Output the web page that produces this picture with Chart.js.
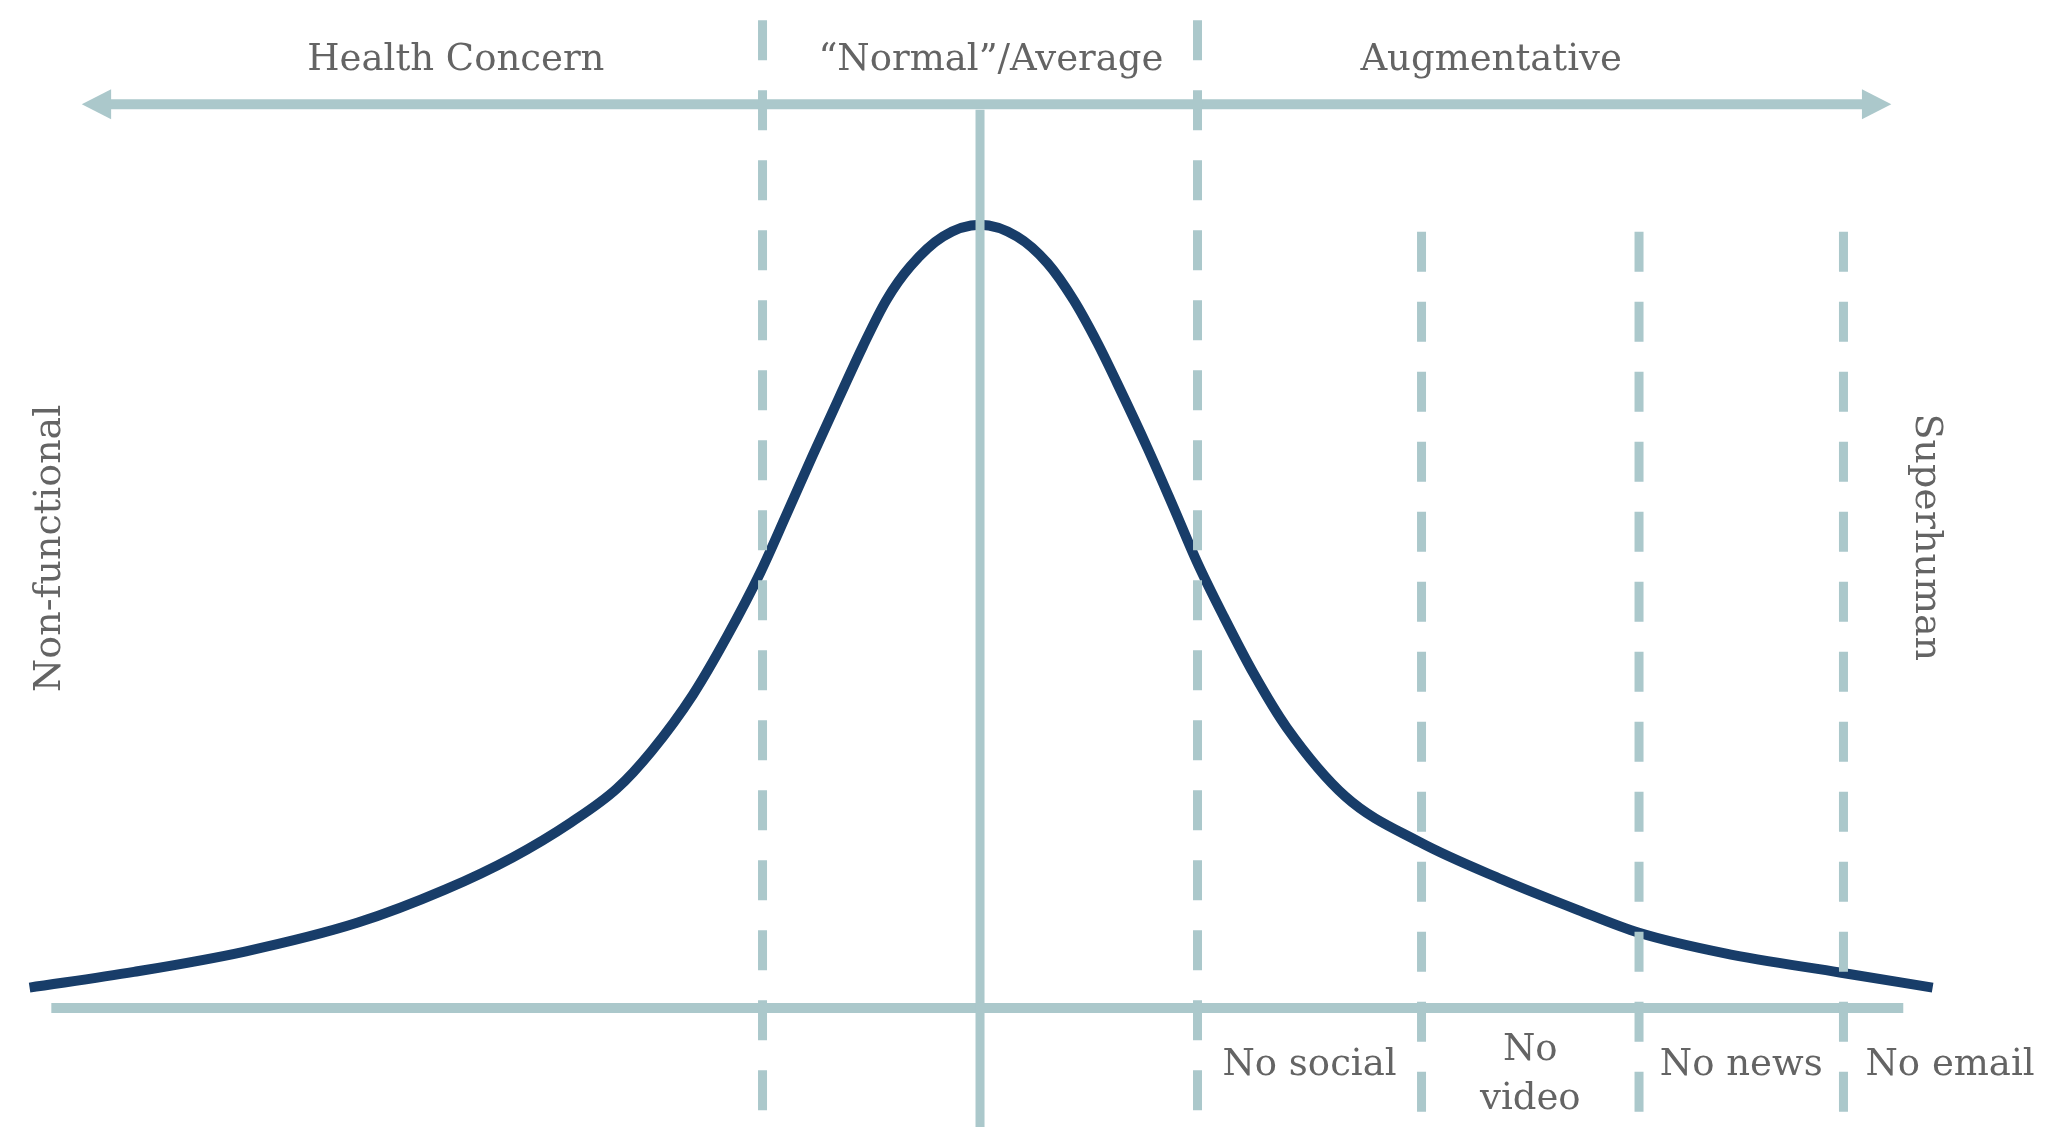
<!DOCTYPE html>
<html>
<head>
<meta charset="utf-8">
<script src="https://cdn.jsdelivr.net/npm/chart.js@4.4.1/dist/chart.umd.min.js"></script>
<style>
    html, body { margin: 0; padding: 0; background: #ffffff; }
    #wrap { width: 2054px; height: 1140px; position: relative; }
</style>
</head>
<body>
<div id="wrap"><canvas id="myChart"></canvas></div>
<script>
// Curve: x in standard deviations from the mean, y as % of the peak
var curveX = [-4.37, -3.89, -3.38, -2.86, -2.46, -2.15, -1.88, -1.67, -1.51, -1.32, -1.16, -1.01, -0.89, -0.77, -0.64, -0.54, -0.43, -0.32, -0.17, 0,
              0.17, 0.31, 0.43, 0.54, 0.63, 0.77, 0.89, 1.00, 1.12, 1.26, 1.41, 1.68, 2.02, 2.40, 2.75, 3.03, 3.42, 3.96, 4.38];
var curveY = [2.6, 4.6, 7.2, 10.9, 15.1, 19.2, 23.7, 28.0, 32.8, 40.0, 47.6, 55.6, 63.0, 70.5, 78.4, 84.4, 90.4, 94.7, 98.5, 100,
              98.5, 95.1, 90.4, 84.9, 79.8, 71.5, 63.9, 56.8, 50.0, 42.6, 35.8, 27.0, 21.2, 16.4, 12.5, 9.6, 7.0, 4.5, 2.6];

// Zone boundaries (std devs)
var zoneLines = [-1, 1];
var detoxLines = [2.03, 3.03, 3.97];

// Text
var topLabels = ['Health Concern', '\u201cNormal\u201d/Average', 'Augmentative'];
var bottomLabels = [['No social'], ['No', 'video'], ['No news'], ['No email']];
var leftLabel = 'Non-functional';
var rightLabel = 'Superhuman';

var lineColor = '#abc8cb';
var curveColor = '#183d69';
var textColor = '#646464';
var fontFamily = '"DejaVu Serif", "Liberation Serif", serif';

// Build the vertical line datasets
function vline(x, top, bottom, dash) {
    return {
        data: [{ x: x, y: top }, { x: x, y: bottom }],
        borderColor: lineColor,
        borderWidth: 9,
        borderDash: dash,
        pointRadius: 0,
        order: 1
    };
}

var datasets = [];
zoneLines.forEach(function(x) { datasets.push(vline(x, 126.1, -13.5, [40, 30])); });
detoxLines.forEach(function(x) { datasets.push(vline(x, 99.1, -13.7, [40, 30])); });
// mean line
datasets.push(vline(0, 114.7, -15.2, []));
// bottom axis
datasets.push({
    data: [{ x: -4.27, y: 0 }, { x: 4.245, y: 0 }],
    borderColor: lineColor, borderWidth: 10, pointRadius: 0, order: 1
});
// top arrow shaft
datasets.push({
    data: [{ x: -4.0, y: 115.4 }, { x: 4.06, y: 115.4 }],
    borderColor: lineColor, borderWidth: 10, pointRadius: 0, order: 1
});
// the curve
datasets.push({
    data: curveX.map(function(x, i) { return { x: x, y: curveY[i] }; }),
    borderColor: curveColor,
    borderWidth: 10,
    pointRadius: 0,
    cubicInterpolationMode: 'monotone',
    order: 2
});

// Arrow heads and all text, placed through the scales
var decorations = {
    id: 'decorations',
    afterDraw: function(chart) {
        var ctx = chart.ctx;
        var xs = chart.scales.x;
        var ys = chart.scales.y;

        // arrow heads
        ctx.save();
        ctx.fillStyle = lineColor;
        var ay = ys.getPixelForValue(115.4);
        [[-4.13, -3.995], [4.19, 4.055]].forEach(function(h) {
            var tip = xs.getPixelForValue(h[0]);
            var base = xs.getPixelForValue(h[1]);
            ctx.beginPath();
            ctx.moveTo(tip, ay);
            ctx.lineTo(base, ay - 15);
            ctx.lineTo(base, ay + 15);
            ctx.closePath();
            ctx.fill();
        });

        ctx.fillStyle = textColor;
        ctx.font = '37px ' + fontFamily;
        ctx.textAlign = 'center';
        ctx.textBaseline = 'alphabetic';

        // top zone labels
        var topPos = [-2.41, 0.05, 2.35];
        topLabels.forEach(function(t, i) {
            ctx.fillText(t, xs.getPixelForValue(topPos[i]), ys.getPixelForValue(119.8));
        });

        // bottom labels, centred between the detox lines
        var bounds = [1].concat(detoxLines);
        bottomLabels.forEach(function(lines, i) {
            var mid = i < bounds.length - 1 ? (bounds[i] + bounds[i + 1]) / 2 : bounds[i] + 0.49;
            var x = xs.getPixelForValue(mid);
            if (lines.length === 1) {
                ctx.fillText(lines[0], x, ys.getPixelForValue(-8.6));
            } else {
                ctx.fillText(lines[0], x, ys.getPixelForValue(-6.7));
                ctx.fillText(lines[1], x, ys.getPixelForValue(-12.9));
            }
        });

        // side labels
        ctx.font = '38px ' + fontFamily;
        ctx.textBaseline = 'middle';
        ctx.save();
        ctx.translate(xs.getPixelForValue(-4.275), ys.getPixelForValue(58.7));
        ctx.rotate(-Math.PI / 2);
        ctx.fillText(leftLabel, 0, 0);
        ctx.restore();

        ctx.save();
        ctx.translate(xs.getPixelForValue(4.349), ys.getPixelForValue(60.1));
        ctx.rotate(Math.PI / 2);
        ctx.fillText(rightLabel, 0, 0);
        ctx.restore();

        ctx.restore();
    }
};

var ctx = document.getElementById('myChart').getContext('2d');
var myChart = new Chart(ctx, {
    type: 'line',
    data: { datasets: datasets },
    options: {
        responsive: true,
        maintainAspectRatio: false,
        animation: false,
        devicePixelRatio: 1,
        layout: { padding: 0 },
        plugins: {
            legend: { display: false },
            tooltip: { enabled: false }
        },
        scales: {
            x: { type: 'linear', min: -4.506, max: 4.938, display: false },
            y: { type: 'linear', min: -16.86, max: 128.7, display: false }
        }
    },
    plugins: [decorations]
});
</script>
</body>
</html>
